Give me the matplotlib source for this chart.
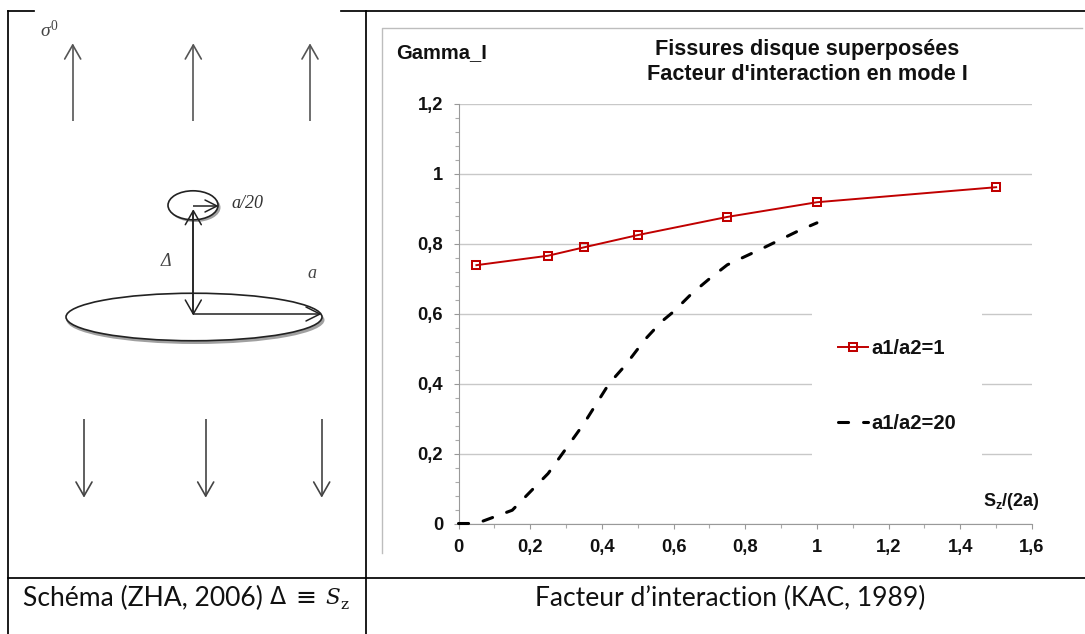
import matplotlib
matplotlib.use("Agg")
import matplotlib.pyplot as plt
from matplotlib.patches import Ellipse
from matplotlib.ticker import MultipleLocator, FuncFormatter
import numpy as np

plt.rcParams['font.family'] = ['Liberation Sans', 'DejaVu Sans']
plt.rcParams['mathtext.fontset'] = 'custom'
plt.rcParams['mathtext.bf'] = 'Liberation Sans:bold'
plt.rcParams['mathtext.rm'] = 'Liberation Serif'
plt.rcParams['mathtext.it'] = 'Liberation Serif:italic'

# Chart data
x_red = [0.05, 0.25, 0.35, 0.5, 0.75, 1.0, 1.5]
y_red = [0.739, 0.766, 0.79, 0.825, 0.877, 0.919, 0.962]
x_black = [0, 0.05, 0.15, 0.25, 0.29, 0.35, 0.42, 0.465, 0.52, 0.567, 0.6, 0.65, 0.7, 0.75, 0.85, 0.95, 1.0]
y_black = [0, 0, 0.038, 0.143, 0.2, 0.286, 0.4, 0.452, 0.526, 0.578, 0.606, 0.657, 0.70, 0.74, 0.788, 0.838, 0.86]
label_red = "a1/a2=1"
label_black = "a1/a2=20"
title = "Fissures disque superposées\nFacteur d'interaction en mode I"
ylabel = "Gamma_I"
xlabel = r"$\mathbf{S_z/(2a)}$"
cap_left = "Schéma (ZHA, 2006)"
cap_right = "Facteur d’interaction (KAC, 1989)"

W, H = 1085, 634
fig = plt.figure(figsize=(W / 100, H / 100), dpi=100, facecolor='white')

# overlay in pixel coordinates for the table and schematic
ov = fig.add_axes([0, 0, 1, 1], zorder=0)
ov.set_xlim(0, W); ov.set_ylim(H, 0); ov.axis('off')

# table rules
ov.plot([8, 8], [10.5, 634], color='black', lw=1.25)
ov.plot([366, 366], [10.5, 634], color='black', lw=1.25)
ov.plot([8, 1085], [577.5, 577.5], color='black', lw=1.25)
ov.plot([8, 34], [10.5, 10.5], color='black', lw=1.25)
ov.plot([341, 1085], [10.5, 10.5], color='black', lw=1.25)

# chart frame
ov.plot([381.5, 381.5, 1082], [553, 28.3, 28.3], color='#bdbdbd', lw=1.0)

# schematic
def arrow(x0, y0, x1, y1, color='#333333', lw=1.0, hw=8, hl=14):
    ov.plot([x0, x1], [y0, y1], color=color, lw=lw, solid_capstyle='butt', zorder=3)
    d = np.array([x1 - x0, y1 - y0], float); d /= np.hypot(*d)
    n = np.array([-d[1], d[0]])
    tip = np.array([x1, y1])
    for s in (-1, 1):
        p = tip - d * hl + s * n * hw
        ov.plot([tip[0], p[0]], [tip[1], p[1]], color=color, lw=lw, solid_capstyle='round', zorder=3)

up_x = [72.7, 193.3, 310]
for xp in up_x:
    arrow(xp, 121, xp, 45, color='#555555', lw=1.2)
down_x = [84, 205.7, 321.7]
for xp in down_x:
    arrow(xp, 419, xp, 496, color='#444444', lw=1.2)

ov.add_patch(Ellipse((195.5, 320), 258, 48, fc='#a0a0a0', ec='none', zorder=1))
ov.add_patch(Ellipse((194, 317), 256, 47.5, fc='white', ec='#222222', lw=1.2, zorder=2))
ov.add_patch(Ellipse((195, 207.5), 51, 29, fc='#a0a0a0', ec='none', zorder=1))
ov.add_patch(Ellipse((193, 205.3), 50, 29, fc='white', ec='#222222', lw=1.2, zorder=2))
arrow(193, 206, 217, 206, color='#222222', lw=1.1, hw=6, hl=12)
arrow(193.3, 314, 193.3, 210.7, color='#222222', lw=1.1)
arrow(193.3, 210.7, 193.3, 314, color='#222222', lw=1.1)
arrow(193.3, 314, 320, 314, color='#222222', lw=1.1, hw=7, hl=14)

ov.text(49, 30, r"$\sigma^{0}$", fontsize=14, ha='center', va='center', color='#444444')
ov.text(231.5, 203, "a/20", family='Liberation Serif', style='italic', fontsize=13, ha='left', va='center', color='#333333')
ov.text(166, 262, "Δ", family='Liberation Serif', style='italic', fontsize=13, ha='center', va='center', color='#444444')
ov.text(312, 274, "a", family='Liberation Serif', style='italic', fontsize=13, ha='center', va='center', color='#444444')

# captions
ov.text(23, 598, cap_left, family='Lato', fontsize=19.1, ha='left', va='center', color='#111111')
ov.text(278, 597.5, "Δ", family='DejaVu Sans', fontsize=17, ha='center', va='center', color='#111111')
ov.text(306, 598, "≡", family='DejaVu Sans', fontsize=18, ha='center', va='center', color='#111111')
ov.text(325, 598, "S", family='DejaVu Serif', style='italic', fontsize=15.5, ha='left', va='center', color='#111111')
ov.text(340, 605, "z", family='DejaVu Serif', fontsize=11, ha='left', va='center', color='#111111')
ov.text(730.6, 598, cap_right, family='Lato', fontsize=19.1, ha='center', va='center', color='#111111')

# chart axes: pixel box x 458.5..1032, y 104..523.5
L, R, T, B = 458.5, 1032, 104, 523.5
ax = fig.add_axes([L / W, 1 - B / H, (R - L) / W, (B - T) / H], zorder=2)
ax.patch.set_alpha(0)
ax.set_xlim(0, 1.6); ax.set_ylim(0, 1.2)
ax.xaxis.set_major_locator(MultipleLocator(0.2))
ax.xaxis.set_minor_locator(MultipleLocator(0.1))
ax.yaxis.set_major_locator(MultipleLocator(0.2))
ax.yaxis.set_minor_locator(MultipleLocator(0.04))
fmt = FuncFormatter(lambda v, p: f"{v:.1f}".rstrip('0').rstrip('.').replace('.', ',') if abs(v) > 1e-9 else "0")
ax.xaxis.set_major_formatter(fmt); ax.yaxis.set_major_formatter(fmt)
ax.grid(axis='y', which='major', color='#c8c8c8', lw=1.0)
ax.set_axisbelow(True)
for s in ('top', 'right'):
    ax.spines[s].set_visible(False)
for s in ('left', 'bottom'):
    ax.spines[s].set_color('#999999'); ax.spines[s].set_linewidth(0.8)
ax.tick_params(which='major', length=3.6, color='#999999', width=0.8, labelsize=13.2, pad=7.5, direction='out', labelcolor='#111111')
ax.tick_params(which='minor', length=2.7, color='#aaaaaa', width=0.8, direction='out')
for t in ax.get_xticklabels() + ax.get_yticklabels():
    t.set_fontweight('bold')

h1, = ax.plot(x_red, y_red, color='#c00000', lw=1.4, marker='s', ms=6.3, mfc='none', mew=1.45, label=label_red, clip_on=False, zorder=4)
h2, = ax.plot(x_black, y_black, color='black', lw=2.2, ls=(0, (3.3, 4.9)), dash_capstyle='round', label=label_black, clip_on=False, zorder=4)

# legend block hides the gridlines behind it
leg = ax.legend(handles=[h1, h2], loc='center left',
                bbox_to_anchor=((812 - L) / (R - L), 1 - (386 - T) / (B - T)),
                frameon=True, framealpha=1, facecolor='white', edgecolor='none', fancybox=False,
                prop={'family': 'Liberation Sans', 'weight': 'bold', 'size': 14.5},
                handlelength=1.49, handletextpad=0.18, labelspacing=2.8,
                borderpad=1.29, borderaxespad=0)
for txt in leg.get_texts():
    txt.set_color('#111111')

ov.text(442, 53, ylabel, fontsize=14.5, fontweight='bold', ha='center', va='center', color='#111111')
ov.text(807.5, 62, title, fontsize=15.6, fontweight='bold', ha='center', va='center', linespacing=1.22, color='#111111')
ov.text(1011.5, 502, xlabel, fontsize=13, ha='center', va='center', color='#111111')

fig.savefig('out.png', dpi=100)
